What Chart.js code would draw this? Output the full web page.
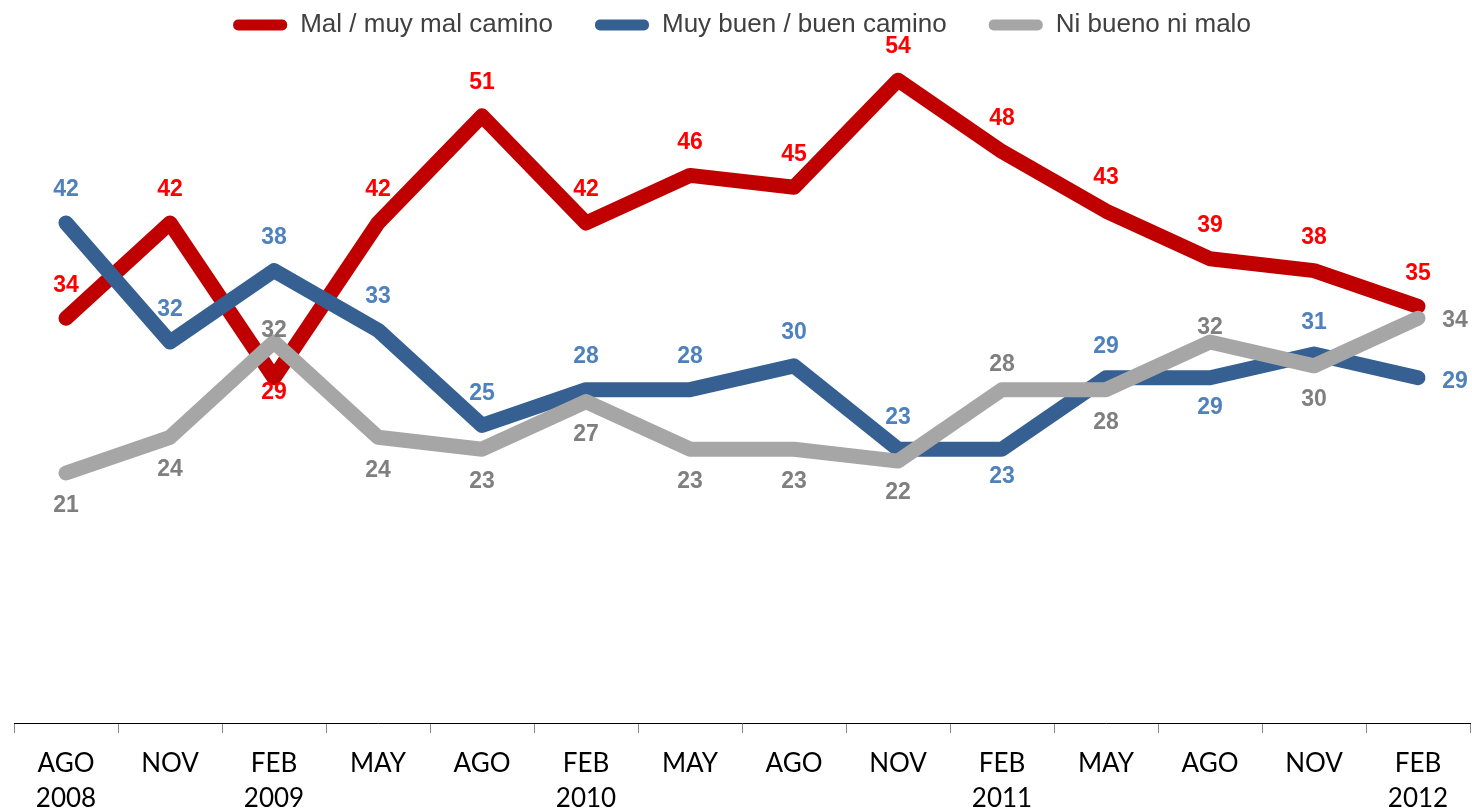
<!DOCTYPE html>
<html>
<head>
<meta charset="utf-8">
<script src="https://cdn.jsdelivr.net/npm/chart.js@4/dist/chart.umd.min.js"></script>
<style>
  html, body { margin: 0; padding: 0; background: #fff; }
</style>
</head>
<body>
<canvas id="myChart" width="1472" height="809"></canvas>
<script>
const categories = [['AGO', '2008'], 'NOV', ['FEB', '2009'], 'MAY', 'AGO', ['FEB', '2010'], 'MAY', 'AGO', 'NOV', ['FEB', '2011'], 'MAY', 'AGO', 'NOV', ['FEB', '2012']];
const seriesNames = ['Mal / muy mal camino', 'Muy buen / buen camino', 'Ni bueno ni malo'];
const malCamino = [34, 42, 29, 42, 51, 42, 46, 45, 54, 48, 43, 39, 38, 35];
const buenCamino = [42, 32, 38, 33, 25, 28, 28, 30, 23, 23, 29, 29, 31, 29];
const niBuenoNiMalo = [21, 24, 32, 24, 23, 27, 23, 23, 22, 28, 28, 32, 30, 34];

const lineColors = ['#C00000', '#376092', '#A6A6A6'];
const labelColors = ['#FF0000', '#4F81BD', '#7F7F7F'];

// where each value label sits relative to its point, in px
const labelOffsets = [
    { dx: [], dy: [-33, -33, 15, -33, -33, -33, -33, -33, -33, -33, -33, -33, -33, -33] },
    { dx: { 13: 37 }, dy: [-33, -32, -33, -33, -32, -33, -33, -33, -32, 27, -31, 30, -31, 4] },
    { dx: { 13: 37 }, dy: [33, 32, -11, 33, 32, 33, 32, 32, 32, -25, 33, -14, 34, 2] }
];

const valueLabels = {
    id: 'valueLabels',
    afterDatasetsDraw(chart) {
        const ctx = chart.ctx;
        ctx.save();
        ctx.font = 'bold 23px "Liberation Sans", Arial, sans-serif';
        ctx.textAlign = 'center';
        ctx.textBaseline = 'middle';
        chart.data.datasets.forEach((ds, i) => {
            const meta = chart.getDatasetMeta(i);
            const off = labelOffsets[i];
            ctx.fillStyle = labelColors[i];
            meta.data.forEach((pt, j) => {
                ctx.fillText(ds.data[j], pt.x + (off.dx[j] || 0), pt.y + off.dy[j]);
            });
        });
        ctx.restore();
    }
};

const series = [malCamino, buenCamino, niBuenoNiMalo];
const datasets = series.map((values, i) => ({
    label: seriesNames[i],
    data: values,
    borderColor: lineColors[i],
    backgroundColor: lineColors[i],
    borderWidth: 15,
    borderCapStyle: 'round',
    borderJoinStyle: 'round',
    pointRadius: 0,
    tension: 0,
    order: 3 - i
}));

const config = {
    type: 'line',
    data: { labels: categories, datasets: datasets },
    options: {
        responsive: false,
        animation: false,
        // negative top pulls the legend up so its wide item padding doesn't push it down
        layout: { padding: { left: 14, right: 2, top: -30, bottom: 0 } },
        plugins: {
            tooltip: { enabled: false },
            legend: {
                display: true,
                position: 'top',
                labels: {
                    font: { family: '"Liberation Sans", Arial, sans-serif', size: 26 },
                    color: '#404040',
                    boxWidth: 54,
                    boxHeight: 11,
                    padding: 42,
                    sort: (a, b) => a.datasetIndex - b.datasetIndex,
                    generateLabels: (chart) => Chart.defaults.plugins.legend.labels.generateLabels(chart)
                        .map(item => Object.assign(item, { lineWidth: 0, borderRadius: 5, fillStyle: item.strokeStyle }))
                }
            }
        },
        scales: {
            x: {
                offset: true,
                grid: { offset: true, drawOnChartArea: false, drawTicks: true, tickLength: 10, color: '#868686' },
                border: { display: true, color: '#000000', width: 1 },
                ticks: {
                    color: '#000000',
                    font: { family: 'Lato, sans-serif', size: 26, lineHeight: 35 / 26 },
                    padding: 13,
                    maxRotation: 0,
                    autoSkip: false
                },
                afterFit: (scale) => { scale.height = 86; }
            },
            y: {
                display: false,
                min: 0,
                max: 56.7
            }
        }
    },
    plugins: [valueLabels]
};

var myChart = new Chart(document.getElementById('myChart'), config);
</script>
</body>
</html>
